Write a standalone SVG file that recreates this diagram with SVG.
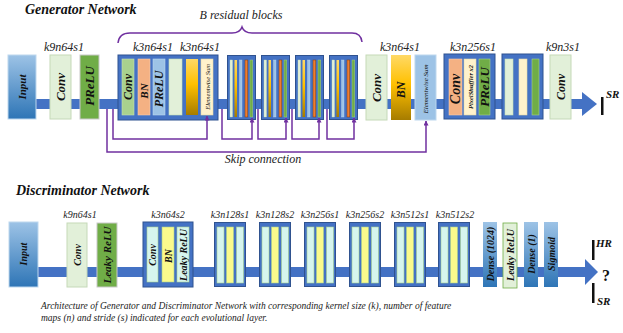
<svg xmlns="http://www.w3.org/2000/svg" xmlns:xlink="http://www.w3.org/1999/xlink" width="623" height="333" viewBox="0 0 623 333">
<defs>
<linearGradient id="blueGrad" x1="0" y1="0" x2="0" y2="1"><stop offset="0" stop-color="#9DC3E6"/><stop offset="1" stop-color="#2E75B6"/></linearGradient>
<linearGradient id="goldGrad" x1="0" y1="0" x2="0" y2="1"><stop offset="0" stop-color="#FFD966"/><stop offset="0.45" stop-color="#FFC000"/><stop offset="1" stop-color="#A67C00"/></linearGradient>
<marker id="arr" viewBox="0 0 10 10" refX="9" refY="5" markerWidth="5" markerHeight="5" markerUnits="userSpaceOnUse" orient="auto"><path d="M0,0 L10,5 L0,10 z" fill="#7030A0"/></marker>
<symbol id="resSmall" viewBox="0 0 29 65" width="29" height="65">
<rect x="0.5" y="0.5" width="28" height="64" fill="#4472C4" stroke="#2F528F"/>
<rect x="3" y="5" width="2.5" height="57" fill="#E2F0D9" stroke="#C5E0B4" stroke-width="0.4"/>
<rect x="7.5" y="5" width="2.5" height="57" fill="url(#goldGrad)"/>
<rect x="12.5" y="5" width="2.5" height="57" fill="#9DC3E6" stroke="#BDD7EE" stroke-width="0.4"/>
<rect x="18" y="5" width="2.8" height="57" fill="#ED7D31" stroke="#843C0C" stroke-width="0.5"/>
<rect x="23" y="5" width="2.8" height="57" fill="#70AD47" stroke="#A9D18E" stroke-width="0.4"/>
</symbol>
<symbol id="discBlock" viewBox="0 0 32 65" width="32" height="65">
<rect x="0.5" y="0.5" width="31" height="64" fill="#4472C4" stroke="#2F528F"/>
<rect x="3" y="5" width="7" height="56" fill="#D6F5EE" stroke="#A9D18E" stroke-width="0.6"/>
<rect x="12.5" y="5" width="7" height="56" fill="#FAFA8C" stroke="#A9D18E" stroke-width="0.6"/>
<rect x="22.5" y="5" width="7" height="56" fill="#D6F5EE" stroke="#A9D18E" stroke-width="0.6"/>
</symbol>
</defs>
<style>
.title{font-family:"Liberation Serif",serif;font-style:italic;font-weight:bold;font-size:14px;fill:#111}
.lbl{font-family:"Liberation Serif",serif;font-style:italic;font-size:12px;fill:#222;text-anchor:middle}
.dlbl{font-family:"Liberation Serif",serif;font-style:italic;font-size:10px;fill:#222;text-anchor:middle}
.bt{font-family:"Liberation Serif",serif;font-style:italic;font-weight:bold;text-anchor:middle;dominant-baseline:central;fill:#111}
.st{font-family:"Liberation Serif",serif;font-style:italic;text-anchor:middle;dominant-baseline:central;fill:#111}
.bar{fill:#4472C4}
.blk{fill:#4472C4;stroke:#2F528F;stroke-width:1}
.lg{fill:#E2F0D9;stroke:#C5D9B8;stroke-width:1}
.gr{fill:#70AD47;stroke:#C9C9C9;stroke-width:1}
.skip{fill:none;stroke:#7030A0;stroke-width:1.5}
.cap{font-family:"Liberation Serif",serif;font-style:italic;font-size:9.5px;fill:#222}
.mk{font-family:"Liberation Serif",serif;font-style:italic;font-weight:bold;font-size:11px;fill:#111}
</style>
<rect width="623" height="333" fill="#fff"/>

<!-- Generator -->
<text class="title" x="25" y="14">Generator Network</text>
<text class="lbl" x="241" y="19">B residual blocks</text>
<path class="skip" d="M118,43 Q119,33 130,33 L232,33 Q240,33 242,27 Q244,33 252,33 L352,33 Q361,33 362,42"/>

<g id="gen-labels">
<text class="lbl" x="64" y="51">k9n64s1</text>
<text class="lbl" x="153" y="51">k3n64s1</text>
<text class="lbl" x="200" y="51">k3n64s1</text>
<text class="lbl" x="400" y="51">k3n64s1</text>
<text class="lbl" x="473" y="51">k3n256s1</text>
<text class="lbl" x="563" y="51">k9n3s1</text>
</g>

<g id="gen-bar">
<rect class="bar" x="35" y="99" width="548" height="10"/>
<polygon class="bar" points="582,92 597,104 582,116"/>
</g>

<g id="gen-input">
<rect x="8" y="55" width="28" height="64" fill="url(#blueGrad)" stroke="#BDD7EE"/>
<text class="bt" font-size="11" fill="#1F3864" transform="translate(22,87) rotate(-90)">Input</text>
</g>
<g id="gen-conv1">
<rect class="lg" x="50" y="55" width="21" height="64"/>
<text class="bt" font-size="13" transform="translate(60.5,87) rotate(-90)">Conv</text>
</g>
<g id="gen-prelu1">
<rect class="gr" x="80" y="55" width="19" height="64"/>
<text class="bt" font-size="13" transform="translate(89.5,86) rotate(-90)">PReLU</text>
</g>

<g id="gen-res1">
<rect class="blk" x="118" y="55" width="100" height="65"/>
<rect x="122" y="59" width="12" height="56" fill="#A9D18E" stroke="#C5E0B4" stroke-width="0.6"/>
<text class="bt" font-size="12" transform="translate(128,87) rotate(-90)">Conv</text>
<rect x="138" y="59" width="12" height="56" fill="#F4B183" stroke="#F8CBAD" stroke-width="0.6"/>
<text class="bt" font-size="11" transform="translate(144,91) rotate(-90)">BN</text>
<rect x="153" y="59" width="12" height="56" fill="#9DC3E6" stroke="#BDD7EE" stroke-width="0.6"/>
<text class="bt" font-size="12" transform="translate(159,89) rotate(-90)">PReLU</text>
<rect x="169" y="59" width="13" height="56" fill="#E2F0D9" stroke="#C5E0B4" stroke-width="0.6"/>
<rect x="186" y="59" width="12" height="56" fill="url(#goldGrad)"/>
<rect x="201" y="59" width="12" height="56" fill="#FFF2CC" stroke="#E8D9A8" stroke-width="0.6"/>
<text class="st" font-size="6.5" transform="translate(207,87) rotate(-90)">Elementwise Sum</text>
</g>
<g id="gen-res2"><use xlink:href="#resSmall" href="#resSmall" x="227" y="55"/></g>
<g id="gen-res3"><use xlink:href="#resSmall" href="#resSmall" x="261" y="55"/></g>
<g id="gen-res4"><use xlink:href="#resSmall" href="#resSmall" x="295" y="55"/></g>
<g id="gen-res5"><use xlink:href="#resSmall" href="#resSmall" x="329" y="55"/></g>

<g id="gen-conv2">
<rect class="lg" x="366" y="55" width="21" height="65"/>
<text class="bt" font-size="13" transform="translate(376.5,88) rotate(-90)">Conv</text>
</g>
<g id="gen-bn2">
<rect x="391" y="55" width="20" height="65" fill="url(#goldGrad)"/>
<text class="bt" font-size="12" transform="translate(401,90) rotate(-90)">BN</text>
</g>
<g id="gen-sum">
<rect x="415" y="55" width="21" height="65" fill="#9DC3E6" stroke="#BDD7EE"/>
<text class="st" font-size="7" transform="translate(425.5,89) rotate(-90)">Elementwise Sum</text>
</g>
<g id="gen-up1">
<rect class="blk" x="444" y="54" width="51" height="65"/>
<rect x="449" y="59" width="13" height="56" fill="#F4B183" stroke="#F8CBAD" stroke-width="0.6"/>
<text class="bt" font-size="14" transform="translate(455.5,89) rotate(-90)">Conv</text>
<rect x="464" y="59" width="12" height="56" fill="#FFF2CC" stroke="#E8D9A8" stroke-width="0.6"/>
<text class="bt" font-size="6.5" transform="translate(470,87) rotate(-90)">PixelShuffler x2</text>
<rect x="479" y="59" width="11" height="56" fill="#70AD47" stroke="#A9D18E" stroke-width="0.6"/>
<text class="bt" font-size="13" transform="translate(484.5,87) rotate(-90)">PReLU</text>
</g>
<g id="gen-up2">
<rect class="blk" x="502" y="54" width="41" height="65"/>
<rect x="505" y="59" width="8" height="56" fill="#E2F0D9" stroke="#C5E0B4" stroke-width="0.6"/>
<rect x="519" y="59" width="8" height="56" fill="#FFF2CC" stroke="#E8D9A8" stroke-width="0.6"/>
<rect x="532" y="59" width="7" height="56" fill="#70AD47" stroke="#A9D18E" stroke-width="0.6"/>
</g>
<g id="gen-conv3">
<rect class="lg" x="550" y="55" width="21" height="64"/>
<text class="bt" font-size="12" transform="translate(560.5,87) rotate(-90)">Conv</text>
</g>
<g id="gen-sr">
<rect x="601" y="97" width="2.5" height="18" fill="#111"/>
<text class="mk" x="606" y="98">SR</text>
</g>

<g id="skip-connections">
<path class="skip" d="M113,109 V139 H207 V116" marker-end="url(#arr)"/>
<path class="skip" d="M222,109 V139 H252 V118" marker-end="url(#arr)"/>
<path class="skip" d="M258,109 V139 H286 V118" marker-end="url(#arr)"/>
<path class="skip" d="M292,109 V139 H319 V118" marker-end="url(#arr)"/>
<path class="skip" d="M327,109 V139 H354 V118" marker-end="url(#arr)"/>
<path class="skip" d="M107,109 V152 H426 V121" marker-end="url(#arr)"/>
</g>
<text class="lbl" x="263" y="163">Skip connection</text>

<!-- Discriminator -->
<text class="title" x="16" y="195">Discriminator Network</text>
<g id="disc-labels">
<text class="dlbl" x="80" y="218">k9n64s1</text>
<text class="dlbl" x="168" y="218">k3n64s2</text>
<text class="dlbl" x="230" y="218">k3n128s1</text>
<text class="dlbl" x="275" y="218">k3n128s2</text>
<text class="dlbl" x="320" y="218">k3n256s1</text>
<text class="dlbl" x="365" y="218">k3n256s2</text>
<text class="dlbl" x="410" y="218">k3n512s1</text>
<text class="dlbl" x="455" y="218">k3n512s2</text>
</g>
<g id="disc-bar">
<rect class="bar" x="36" y="267" width="550" height="10"/>
<polygon class="bar" points="585,259 598,272 585,285"/>
</g>
<g id="disc-input">
<rect x="9" y="222" width="29" height="65" fill="url(#blueGrad)" stroke="#BDD7EE"/>
<text class="bt" font-size="10" fill="#1F3864" transform="translate(23.5,254) rotate(-90)">Input</text>
</g>
<g id="disc-conv1">
<rect class="lg" x="67" y="223" width="20" height="64"/>
<text class="bt" font-size="10" transform="translate(77,255) rotate(-90)">Conv</text>
</g>
<g id="disc-lrelu1">
<rect class="gr" x="97" y="223" width="20" height="64"/>
<text class="bt" font-size="11" transform="translate(107,255) rotate(-90)">Leaky ReLU</text>
</g>
<g id="disc-b1">
<rect class="blk" x="143" y="222" width="50" height="65"/>
<rect x="147" y="227" width="11" height="55" fill="#D6F5EE" stroke="#A9D18E" stroke-width="0.6"/>
<text class="bt" font-size="10" transform="translate(152.5,255) rotate(-90)">Conv</text>
<rect x="162" y="227" width="12" height="55" fill="#FAFA8C" stroke="#A9D18E" stroke-width="0.6"/>
<text class="bt" font-size="10" transform="translate(168,256) rotate(-90)">BN</text>
<rect x="177" y="227" width="12" height="55" fill="#D6F5EE" stroke="#A9D18E" stroke-width="0.6"/>
<text class="bt" font-size="10" transform="translate(183,255) rotate(-90)">Leaky ReLU</text>
</g>
<g id="disc-b2"><use xlink:href="#discBlock" href="#discBlock" x="214" y="222"/></g>
<g id="disc-b3"><use xlink:href="#discBlock" href="#discBlock" x="259" y="222"/></g>
<g id="disc-b4"><use xlink:href="#discBlock" href="#discBlock" x="304" y="222"/></g>
<g id="disc-b5"><use xlink:href="#discBlock" href="#discBlock" x="349" y="222"/></g>
<g id="disc-b6"><use xlink:href="#discBlock" href="#discBlock" x="394" y="222"/></g>
<g id="disc-b7"><use xlink:href="#discBlock" href="#discBlock" x="438" y="222"/></g>
<g id="disc-dense1">
<rect x="483" y="222" width="14" height="65" fill="url(#blueGrad)"/>
<text class="bt" font-size="10" fill="#1F2A44" transform="translate(490,254) rotate(-90)">Dense (1024)</text>
</g>
<g id="disc-lrelu2">
<rect x="503" y="223" width="14" height="65" fill="#E2F0D9" stroke="#70AD47" stroke-width="0.8"/>
<text class="bt" font-size="10" transform="translate(510,255) rotate(-90)">Leaky ReLU</text>
</g>
<g id="disc-dense2">
<rect x="524" y="222" width="14" height="65" fill="url(#blueGrad)"/>
<text class="bt" font-size="10" fill="#1F2A44" transform="translate(531,254) rotate(-90)">Dense (1)</text>
</g>
<g id="disc-sigmoid">
<rect x="544" y="222" width="14" height="65" fill="url(#blueGrad)"/>
<text class="bt" font-size="10" fill="#1F2A44" transform="translate(551,254) rotate(-90)">Sigmoid</text>
</g>
<g id="disc-out">
<rect x="592" y="240" width="2.5" height="20" fill="#111"/>
<text class="mk" x="596" y="247">HR</text>
<text x="606" y="281" font-family="Liberation Serif, serif" font-weight="bold" font-size="16" text-anchor="middle" fill="#111">?</text>
<rect x="592" y="283" width="2.5" height="20" fill="#111"/>
<text class="mk" x="597" y="305">SR</text>
</g>

<text class="cap" x="41" y="309">Architecture of Generator and Discriminator Network with corresponding kernel size (k), number of feature</text>
<text class="cap" x="41" y="321">maps (n) and stride (s) indicated for each evolutional layer.</text>
</svg>
